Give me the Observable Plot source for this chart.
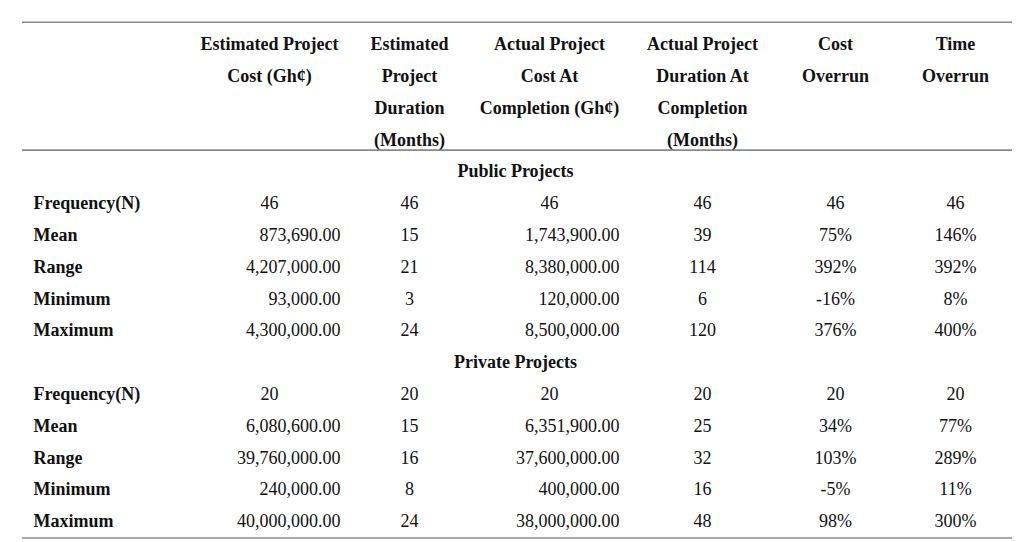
<!DOCTYPE html>
<html>
<head>
<meta charset="utf-8">
<script src="https://cdn.jsdelivr.net/npm/d3@7"></script>
<script src="https://cdn.jsdelivr.net/npm/@observablehq/plot@0.6"></script>
<style>
  html, body { margin: 0; padding: 0; background: #ffffff; }
  #chart svg { display: block; }
</style>
</head>
<body>
<div id="chart"></div>
<script>
// ---- Data ----
const headers = [
  "Estimated Project\nCost (Gh¢)",
  "Estimated\nProject\nDuration\n(Months)",
  "Actual Project\nCost At\nCompletion (Gh¢)",
  "Actual Project\nDuration At\nCompletion\n(Months)",
  "Cost\nOverrun",
  "Time\nOverrun"
];
const sections = ["Public Projects", "Private Projects"];
const stats = ["Frequency(N)", "Mean", "Range", "Minimum", "Maximum"];

const publicEstCost = [46, 873690, 4207000, 93000, 4300000];
const publicEstDur = [46, 15, 21, 3, 24];
const publicActCost = [46, 1743900, 8380000, 120000, 8500000];
const publicActDur = [46, 39, 114, 6, 120];
const publicCostOverrun = [46, 75, 392, -16, 376];
const publicTimeOverrun = [46, 146, 392, 8, 400];

const privateEstCost = [20, 6080600, 39760000, 240000, 40000000];
const privateEstDur = [20, 15, 16, 8, 24];
const privateActCost = [20, 6351900, 37600000, 400000, 38000000];
const privateActDur = [20, 25, 32, 16, 48];
const privateCostOverrun = [20, 34, 103, -5, 98];
const privateTimeOverrun = [20, 77, 289, 11, 300];

// column kinds: cost / count / pct
const colKinds = ["cost", "count", "cost", "count", "pct", "pct"];

// ---- Layout ----
const colCenter = [269, 409, 549, 702, 835, 955];
const colRight = [340, 409, 619, 702, 835, 955];
const labelX = 33;
const sectionX = 515;
const ruleX1 = 22, ruleX2 = 1012;
const ruleRows = [-0.7, 3.32, 15.52];
const FONT = "'Liberation Serif', 'Times New Roman', Times, serif";
const FS = 18;
const INK = "#111111";

const fmtCost = d3.format(",.2f");
function fmt(kind, statIndex, v) {
  if (statIndex === 0) return String(v);
  if (kind === "cost") return fmtCost(v);
  if (kind === "pct") return `${v}%`;
  return String(v);
}

// Header cells (one datum per line)
const headerCells = [];
headers.forEach((h, c) => {
  h.split("\n").forEach((line, i) => headerCells.push({x: colCenter[c], row: i, text: line}));
});

// Body cells
const groups = [
  [publicEstCost, publicEstDur, publicActCost, publicActDur, publicCostOverrun, publicTimeOverrun],
  [privateEstCost, privateEstDur, privateActCost, privateActDur, privateCostOverrun, privateTimeOverrun]
];
const sectionCells = [];
const labelCells = [];
const centerCells = [];
const rightCells = [];
groups.forEach((cols, g) => {
  const base = 4 + g * 6;
  sectionCells.push({x: sectionX, row: base, text: sections[g]});
  stats.forEach((s, r) => {
    const row = base + 1 + r;
    labelCells.push({x: labelX, row, text: s});
    cols.forEach((arr, c) => {
      const kind = colKinds[c];
      const text = fmt(kind, r, arr[r]);
      if (kind === "cost" && r > 0) rightCells.push({x: colRight[c], row, text});
      else centerCells.push({x: colCenter[c], row, text});
    });
  });
});

const common = {fontFamily: FONT, fontSize: FS, fill: INK, lineAnchor: "middle"};

const chart = Plot.plot({
  width: 1024,
  height: 542,
  margin: 0,
  style: {background: "#ffffff", fontFamily: FONT},
  x: {type: "linear", domain: [0, 1024], range: [0, 1024], axis: null},
  y: {type: "linear", domain: [0, 15], range: [44, 521], axis: null},
  marks: [
    Plot.ruleY(ruleRows, {x1: ruleX1, x2: ruleX2, stroke: "#8a8a8a", strokeWidth: 1.6}),
    Plot.text(headerCells, {x: "x", y: "row", text: "text", textAnchor: "middle", fontWeight: "bold", ...common}),
    Plot.text(sectionCells, {x: "x", y: "row", text: "text", textAnchor: "middle", fontWeight: "bold", ...common}),
    Plot.text(labelCells, {x: "x", y: "row", text: "text", textAnchor: "start", fontWeight: "bold", ...common}),
    Plot.text(centerCells, {x: "x", y: "row", text: "text", textAnchor: "middle", ...common}),
    Plot.text(rightCells, {x: "x", y: "row", text: "text", textAnchor: "end", ...common})
  ]
});
document.getElementById("chart").appendChild(chart);
</script>
</body>
</html>
